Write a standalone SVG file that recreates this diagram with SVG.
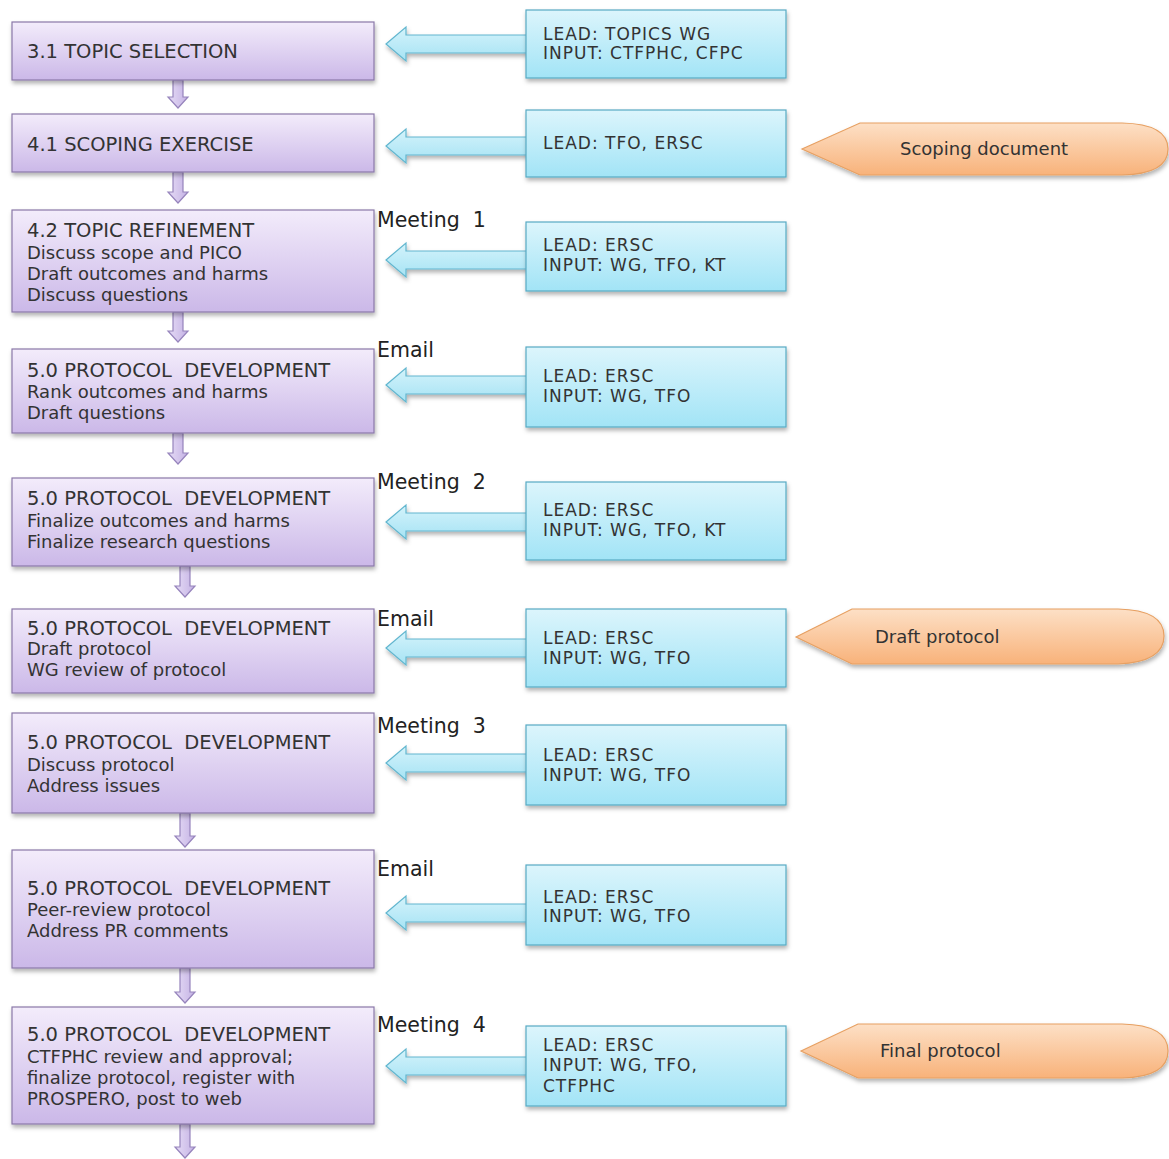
<svg xmlns="http://www.w3.org/2000/svg" width="1169" height="1159" viewBox="0 0 1169 1159">
<defs>
<linearGradient id="gp" x1="0" y1="0" x2="0" y2="1"><stop offset="0" stop-color="#f3ecfb"/><stop offset="1" stop-color="#cbb8e8"/></linearGradient>
<linearGradient id="gb" x1="0" y1="0" x2="0" y2="1"><stop offset="0" stop-color="#dcf5fc"/><stop offset="1" stop-color="#a2e4f6"/></linearGradient>
<linearGradient id="ga" x1="0" y1="0" x2="0" y2="1"><stop offset="0" stop-color="#d4f3fb"/><stop offset="1" stop-color="#a6e3f4"/></linearGradient>
<linearGradient id="go" x1="0" y1="0" x2="0" y2="1"><stop offset="0" stop-color="#fde0c6"/><stop offset="1" stop-color="#f8b27a"/></linearGradient>
<linearGradient id="gd" x1="0" y1="0" x2="1" y2="0"><stop offset="0" stop-color="#e6dcf6"/><stop offset="1" stop-color="#c4b2e4"/></linearGradient>
<filter id="sh" x="-5%" y="-10%" width="112%" height="130%"><feDropShadow dx="1" dy="3" stdDeviation="2" flood-color="#000" flood-opacity="0.3"/></filter>
</defs>
<style>
.p{fill:url(#gp);stroke:#8a78a8;stroke-width:1.2;filter:url(#sh)}
.b{fill:url(#gb);stroke:#58aac4;stroke-width:1.2;filter:url(#sh)}
.ba{fill:url(#ga);stroke:#62b6cf;stroke-width:1.2;filter:url(#sh)}
.o{fill:url(#go);stroke:#e7a062;stroke-width:1.2;filter:url(#sh)}
.d{fill:url(#gd);stroke:#9684bc;stroke-width:1.2}
text{font-family:"DejaVu Sans",Verdana,sans-serif;fill:#333;white-space:pre}
.t{font-size:19.5px}
.s{font-size:18px}
.l{font-size:17px;letter-spacing:1px}
.m{font-size:20.5px;fill:#222}
.oc{font-size:18px}
</style>
<rect width="1169" height="1159" fill="#fff"/>
<g id="connectors">
<path class="d" d="M173,80 L183,80 L183,97 L188,97 L178,108 L168,97 L173,97 Z"/>
<path class="d" d="M173,172 L183,172 L183,192 L188,192 L178,203 L168,192 L173,192 Z"/>
<path class="d" d="M173,312 L183,312 L183,331 L188,331 L178,342 L168,331 L173,331 Z"/>
<path class="d" d="M173,433 L183,433 L183,453 L188,453 L178,464 L168,453 L173,453 Z"/>
<path class="d" d="M180,566 L190,566 L190,586 L195,586 L185,597 L175,586 L180,586 Z"/>
<path class="d" d="M180,813 L190,813 L190,836 L195,836 L185,847 L175,836 L180,836 Z"/>
<path class="d" d="M180,968 L190,968 L190,992 L195,992 L185,1003 L175,992 L180,992 Z"/>
<path class="d" d="M180,1124 L190,1124 L190,1147 L195,1147 L185,1158 L175,1147 L180,1147 Z"/>
<path class="ba" d="M386,44 L406,27 L406,35 L528,35 L528,53 L406,53 L406,61 Z"/>
<path class="ba" d="M386,146 L406,129 L406,137 L528,137 L528,155 L406,155 L406,163 Z"/>
<path class="ba" d="M386,260 L406,243 L406,251 L528,251 L528,269 L406,269 L406,277 Z"/>
<path class="ba" d="M386,385 L406,368 L406,376 L528,376 L528,394 L406,394 L406,402 Z"/>
<path class="ba" d="M386,522 L406,505 L406,513 L528,513 L528,531 L406,531 L406,539 Z"/>
<path class="ba" d="M386,648 L406,631 L406,639 L528,639 L528,657 L406,657 L406,665 Z"/>
<path class="ba" d="M386,763 L406,746 L406,754 L528,754 L528,772 L406,772 L406,780 Z"/>
<path class="ba" d="M386,913 L406,896 L406,904 L528,904 L528,922 L406,922 L406,930 Z"/>
<path class="ba" d="M386,1066 L406,1049 L406,1057 L528,1057 L528,1075 L406,1075 L406,1083 Z"/>
</g>
<g id="step1"><rect class="p" x="12" y="22" width="362" height="58"/><text class="t" x="27" y="58">3.1 TOPIC SELECTION</text></g>
<g id="step2"><rect class="p" x="12" y="114" width="362" height="58"/><text class="t" x="27" y="151">4.1 SCOPING EXERCISE</text></g>
<g id="step3"><rect class="p" x="12" y="210" width="362" height="102"/><text class="t" x="27" y="237">4.2 TOPIC REFINEMENT</text><text class="s" x="27" y="259">Discuss scope and PICO</text><text class="s" x="27" y="280">Draft outcomes and harms</text><text class="s" x="27" y="301">Discuss questions</text></g>
<g id="step4"><rect class="p" x="12" y="349" width="362" height="84"/><text class="t" x="27" y="377">5.0 PROTOCOL  DEVELOPMENT</text><text class="s" x="27" y="398">Rank outcomes and harms</text><text class="s" x="27" y="419">Draft questions</text></g>
<g id="step5"><rect class="p" x="12" y="478" width="362" height="88"/><text class="t" x="27" y="505">5.0 PROTOCOL  DEVELOPMENT</text><text class="s" x="27" y="527">Finalize outcomes and harms</text><text class="s" x="27" y="548">Finalize research questions</text></g>
<g id="step6"><rect class="p" x="12" y="609" width="362" height="84"/><text class="t" x="27" y="635">5.0 PROTOCOL  DEVELOPMENT</text><text class="s" x="27" y="655">Draft protocol</text><text class="s" x="27" y="676">WG review of protocol</text></g>
<g id="step7"><rect class="p" x="12" y="713" width="362" height="100"/><text class="t" x="27" y="749">5.0 PROTOCOL  DEVELOPMENT</text><text class="s" x="27" y="771">Discuss protocol</text><text class="s" x="27" y="792">Address issues</text></g>
<g id="step8"><rect class="p" x="12" y="850" width="362" height="118"/><text class="t" x="27" y="895">5.0 PROTOCOL  DEVELOPMENT</text><text class="s" x="27" y="916">Peer-review protocol</text><text class="s" x="27" y="937">Address PR comments</text></g>
<g id="step9"><rect class="p" x="12" y="1007" width="362" height="117"/><text class="t" x="27" y="1041">5.0 PROTOCOL  DEVELOPMENT</text><text class="s" x="27" y="1063">CTFPHC review and approval;</text><text class="s" x="27" y="1084">finalize protocol, register with</text><text class="s" x="27" y="1105">PROSPERO, post to web</text></g>
<g id="lead1"><rect class="b" x="526" y="10" width="260" height="68"/><text class="l" x="543" y="40">LEAD: TOPICS WG</text><text class="l" x="543" y="59">INPUT: CTFPHC, CFPC</text></g>
<g id="lead2"><rect class="b" x="526" y="110" width="260" height="67"/><text class="l" x="543" y="149">LEAD: TFO, ERSC</text></g>
<g id="lead3"><rect class="b" x="526" y="222" width="260" height="69"/><text class="l" x="543" y="251">LEAD: ERSC</text><text class="l" x="543" y="271">INPUT: WG, TFO, KT</text></g>
<g id="lead4"><rect class="b" x="526" y="347" width="260" height="80"/><text class="l" x="543" y="382">LEAD: ERSC</text><text class="l" x="543" y="402">INPUT: WG, TFO</text></g>
<g id="lead5"><rect class="b" x="526" y="482" width="260" height="78"/><text class="l" x="543" y="516">LEAD: ERSC</text><text class="l" x="543" y="536">INPUT: WG, TFO, KT</text></g>
<g id="lead6"><rect class="b" x="526" y="609" width="260" height="78"/><text class="l" x="543" y="644">LEAD: ERSC</text><text class="l" x="543" y="664">INPUT: WG, TFO</text></g>
<g id="lead7"><rect class="b" x="526" y="725" width="260" height="80"/><text class="l" x="543" y="761">LEAD: ERSC</text><text class="l" x="543" y="781">INPUT: WG, TFO</text></g>
<g id="lead8"><rect class="b" x="526" y="865" width="260" height="80"/><text class="l" x="543" y="903">LEAD: ERSC</text><text class="l" x="543" y="922">INPUT: WG, TFO</text></g>
<g id="lead9"><rect class="b" x="526" y="1026" width="260" height="80"/><text class="l" x="543" y="1051">LEAD: ERSC</text><text class="l" x="543" y="1071">INPUT: WG, TFO,</text><text class="l" x="543" y="1092">CTFPHC</text></g>
<g id="labels">
<text class="m" x="377" y="227">Meeting  1</text>
<text class="m" x="377" y="357">Email</text>
<text class="m" x="377" y="489">Meeting  2</text>
<text class="m" x="377" y="626">Email</text>
<text class="m" x="377" y="733">Meeting  3</text>
<text class="m" x="377" y="876">Email</text>
<text class="m" x="377" y="1032">Meeting  4</text>
</g>
<g id="out1"><path class="o" d="M802,149 L860,123 L1122,123 Q1168,124 1168,149 Q1168,174 1122,175 L860,175 Z"/><text class="oc" x="900" y="155">Scoping document</text></g>
<g id="out2"><path class="o" d="M796,637 L852,609 L1118,609 Q1164,610 1164,636 Q1164,662 1118,664 L852,664 Z"/><text class="oc" x="875" y="643">Draft protocol</text></g>
<g id="out3"><path class="o" d="M801,1051 L858,1024 L1122,1024 Q1168,1025 1168,1051 Q1168,1077 1122,1078 L858,1078 Z"/><text class="oc" x="880" y="1057">Final protocol</text></g>
</svg>
